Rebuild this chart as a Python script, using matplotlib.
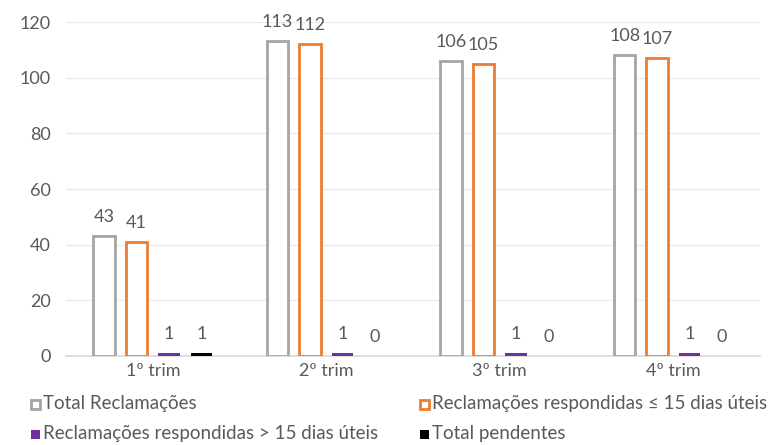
import matplotlib.pyplot as plt
import numpy as np
from matplotlib.patches import Rectangle

plt.rcParams['font.family'] = ['Lato', 'DejaVu Sans']

categories = ['1º trim', '2º trim', '3º trim', '4º trim']
total_recl = [43, 113, 106, 108]
resp_ate15 = [41, 112, 105, 107]
resp_mais15 = [1, 1, 1, 1]
pendentes = [1, 0, 0, 0]

series_names = ['Total Reclamações', 'Reclamações respondidas ≤ 15 dias úteis',
                'Reclamações respondidas > 15 dias úteis', 'Total pendentes']
colors = ['#A5A5A5', '#ED7D31', '#7030A0', '#000000']
txt_col = '#595959'

fig = plt.figure(figsize=(7.8, 4.45), dpi=100)
ax = fig.add_axes([66/780, 89/445, 694/780, 334/445])

x = np.arange(len(categories))
width = 0.125
offsets = [-1.5, -0.5, 0.5, 1.5]
all_series = [total_recl, resp_ate15, resp_mais15, pendentes]

for i, vals in enumerate(all_series):
    xs = x + offsets[i] * 0.187
    if i < 2:
        ax.bar(xs, vals, width, facecolor='white', edgecolor=colors[i], linewidth=2, zorder=3)
    else:
        ax.bar(xs, vals, width, color=colors[i], linewidth=0, zorder=3)
    for xx, v in zip(xs, vals):
        ax.annotate(str(v), (xx, v), xytext=(0, 8), textcoords='offset points',
                    ha='center', va='bottom', fontsize=13, color=txt_col)

ax.set_xlim(-0.5, 3.5)
ax.set_ylim(0, 120)
ax.set_yticks(range(0, 121, 20))
ax.set_xticks(x)
ax.set_xticklabels(categories)
ax.tick_params(axis='both', length=0, labelsize=13, labelcolor=txt_col)
ax.tick_params(axis='y', pad=11)
ax.tick_params(axis='x', pad=5)
ax.yaxis.grid(True, color='#EBEBEB', linewidth=1, zorder=0)
for s in ['top', 'right', 'left']:
    ax.spines[s].set_visible(False)
ax.spines['bottom'].set_color('#D9D9D9')
ax.spines['bottom'].set_linewidth(1.2)

# legend, drawn by hand: two rows, two columns
leg_pos = [(31, 404), (420, 404), (31, 434), (420, 434)]
for k, (px, py) in enumerate(leg_pos):
    sz = 9
    if k < 2:
        r = Rectangle((px / 780, (445 - py - sz / 2) / 445), sz / 780, sz / 445,
                      facecolor='white', edgecolor=colors[k], linewidth=2,
                      transform=fig.transFigure)
    else:
        r = Rectangle((px / 780, (445 - py - sz / 2) / 445), sz / 780, sz / 445,
                      facecolor=colors[k], edgecolor='none', transform=fig.transFigure)
    fig.add_artist(r)
    fig.text((px + 12) / 780, (445 - py) / 445, series_names[k], fontsize=13.5,
             color=txt_col, ha='left', va='center')

fig.savefig('out.png', dpi=100)
